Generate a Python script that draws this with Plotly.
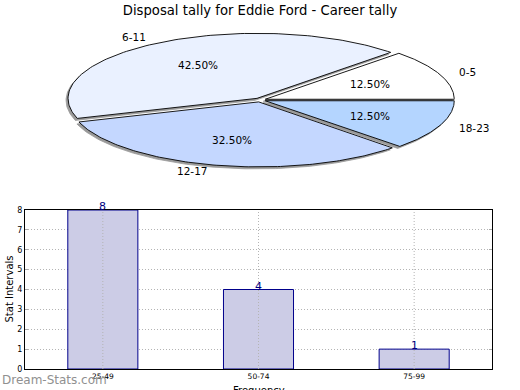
import numpy as np
import plotly.graph_objects as go

# ---- data ----
pie_labels = ["0-5", "6-11", "12-17", "18-23"]
pie_values = [12.5, 42.5, 32.5, 12.5]
pie_colors = ["#FFFFFF", "#EAF1FF", "#C4D7FF", "#B4D5FF"]

bar_cats = ["25-49", "50-74", "75-99"]
bar_vals = [8, 4, 1]

title = "Disposal tally for Eddie Ford - Career tally"
x_title = "Frequency"
y_title = "Stat Intervals"

W, H = 520, 390
FONT = "DejaVu Sans"

# pie geometry (pixels)
cx, cy = 260, 100
rx, ry = 189, 65
explode = 0.03

# bar plot area (pixels)
bx0, bx1, by0, by1 = 25, 492, 210, 369

fig = go.Figure()

total = sum(pie_values)
start = 0.0
slices = []
for lab, v, col in zip(pie_labels, pie_values, pie_colors):
    t1 = start
    t2 = start + 360.0 * v / total
    start = t2
    tm = np.deg2rad((t1 + t2) / 2)
    ox, oy = explode * np.cos(tm), explode * np.sin(tm)
    th = np.deg2rad(np.linspace(t1, t2, 120))
    xs = np.concatenate([[ox], ox + np.cos(th), [ox]])
    ys = np.concatenate([[oy], oy + np.sin(th), [oy]])
    slices.append((lab, v, col, xs, ys, tm, ox, oy))

sdx, sdy = -2.0 / rx, -2.0 / ry
for lab, v, col, xs, ys, tm, ox, oy in slices:
    fig.add_trace(go.Scatter(x=xs + sdx, y=ys + sdy, mode="lines", fill="toself",
                             fillcolor="#9a9a9a", line=dict(color="#9a9a9a", width=0.8),
                             xaxis="x2", yaxis="y2", hoverinfo="skip", showlegend=False))
for lab, v, col, xs, ys, tm, ox, oy in slices:
    fig.add_trace(go.Scatter(x=xs, y=ys, mode="lines", fill="toself",
                             fillcolor=col, line=dict(color="black", width=0.9),
                             xaxis="x2", yaxis="y2", hoverinfo="skip", showlegend=False))

for lab, v, col, xs, ys, tm, ox, oy in slices:
    lx, ly = ox + 1.1 * np.cos(tm), oy + 1.1 * np.sin(tm)
    fig.add_annotation(x=lx, y=ly, xref="x2", yref="y2", text=lab, showarrow=False,
                       xanchor="left" if lx > 0 else "right", yanchor="middle",
                       font=dict(family=FONT, size=10.5, color="black"))
    px, py = ox + 0.6 * np.cos(tm), oy + 0.6 * np.sin(tm)
    fig.add_annotation(x=px, y=py, xref="x2", yref="y2", text=f"{v / total * 100:.2f}%",
                       showarrow=False, xanchor="center", yanchor="middle",
                       font=dict(family=FONT, size=10.5, color="black"))

# bar chart
fig.add_trace(go.Bar(x=bar_cats, y=bar_vals, width=0.45,
                     marker=dict(color="#CCCCE6", line=dict(color="#00008B", width=1)),
                     showlegend=False, hoverinfo="skip"))
for c, v in zip(bar_cats, bar_vals):
    fig.add_annotation(x=c, y=v, xref="x", yref="y", text=str(v), showarrow=False,
                       xanchor="center", yanchor="bottom", yshift=-5,
                       font=dict(family=FONT, size=11, color="#000080"))

for c in bar_cats:
    fig.add_shape(type="line", xref="x", yref="y domain", x0=c, x1=c, y0=0, y1=1,
                  line=dict(color="#b4b4b4", width=1, dash="1px,2px"), layer="above")

# axis titles
fig.add_annotation(x=(bx0 + bx1) / 2 / W, y=1 - 383 / H, xref="paper", yref="paper",
                   text=x_title, showarrow=False, xanchor="center", yanchor="top",
                   font=dict(family=FONT, size=10, color="black"))
fig.add_annotation(x=9 / W, y=1 - (by0 + by1) / 2 / H, xref="paper", yref="paper",
                   text=y_title, showarrow=False, textangle=-90,
                   xanchor="center", yanchor="middle",
                   font=dict(family=FONT, size=10, color="black"))

fig.add_annotation(x=0, y=1 - 380 / H, xref="paper", yref="paper", text="Dream-Stats.com",
                   showarrow=False, xanchor="left", yanchor="middle",
                   font=dict(family=FONT, size=12, color="#909090"))

fig.update_layout(
    width=W, height=H, margin=dict(l=0, r=0, t=0, b=0),
    paper_bgcolor="white", plot_bgcolor="rgba(0,0,0,0)",
    font=dict(family=FONT, color="black"),
    title=dict(text=title, x=0.5, xanchor="center", y=1 - 10 / H, yanchor="middle",
               font=dict(family=FONT, size=13.2, color="black")),
    xaxis=dict(domain=[bx0 / W, bx1 / W], range=[-0.5, 2.5], type="category",
               showline=True, mirror=True, linecolor="black", linewidth=1,
               showgrid=False, ticks="", tickfont=dict(size=7.5), automargin=False,
               zeroline=False),
    yaxis=dict(domain=[1 - by1 / H, 1 - by0 / H], range=[0, 8], dtick=1,
               showline=True, mirror="ticks", linecolor="black", linewidth=1,
               showgrid=True, gridcolor="#b4b4b4", griddash="1px,2px", gridwidth=1,
               ticks="inside", ticklen=3, tickcolor="#aaaaaa", tickfont=dict(size=8),
               automargin=False, zeroline=False),
    xaxis2=dict(domain=[0, 1], range=[-cx / rx, (W - cx) / rx], visible=False, anchor="y2"),
    yaxis2=dict(domain=[0, 1], range=[-(H - cy) / ry, cy / ry], visible=False, anchor="x2"),
)

fig.write_html("out.html", config={"displayModeBar": False},
               post_script="document.body.style.margin='0';document.body.style.overflow='hidden';"
                           "document.documentElement.style.overflow='hidden';")
